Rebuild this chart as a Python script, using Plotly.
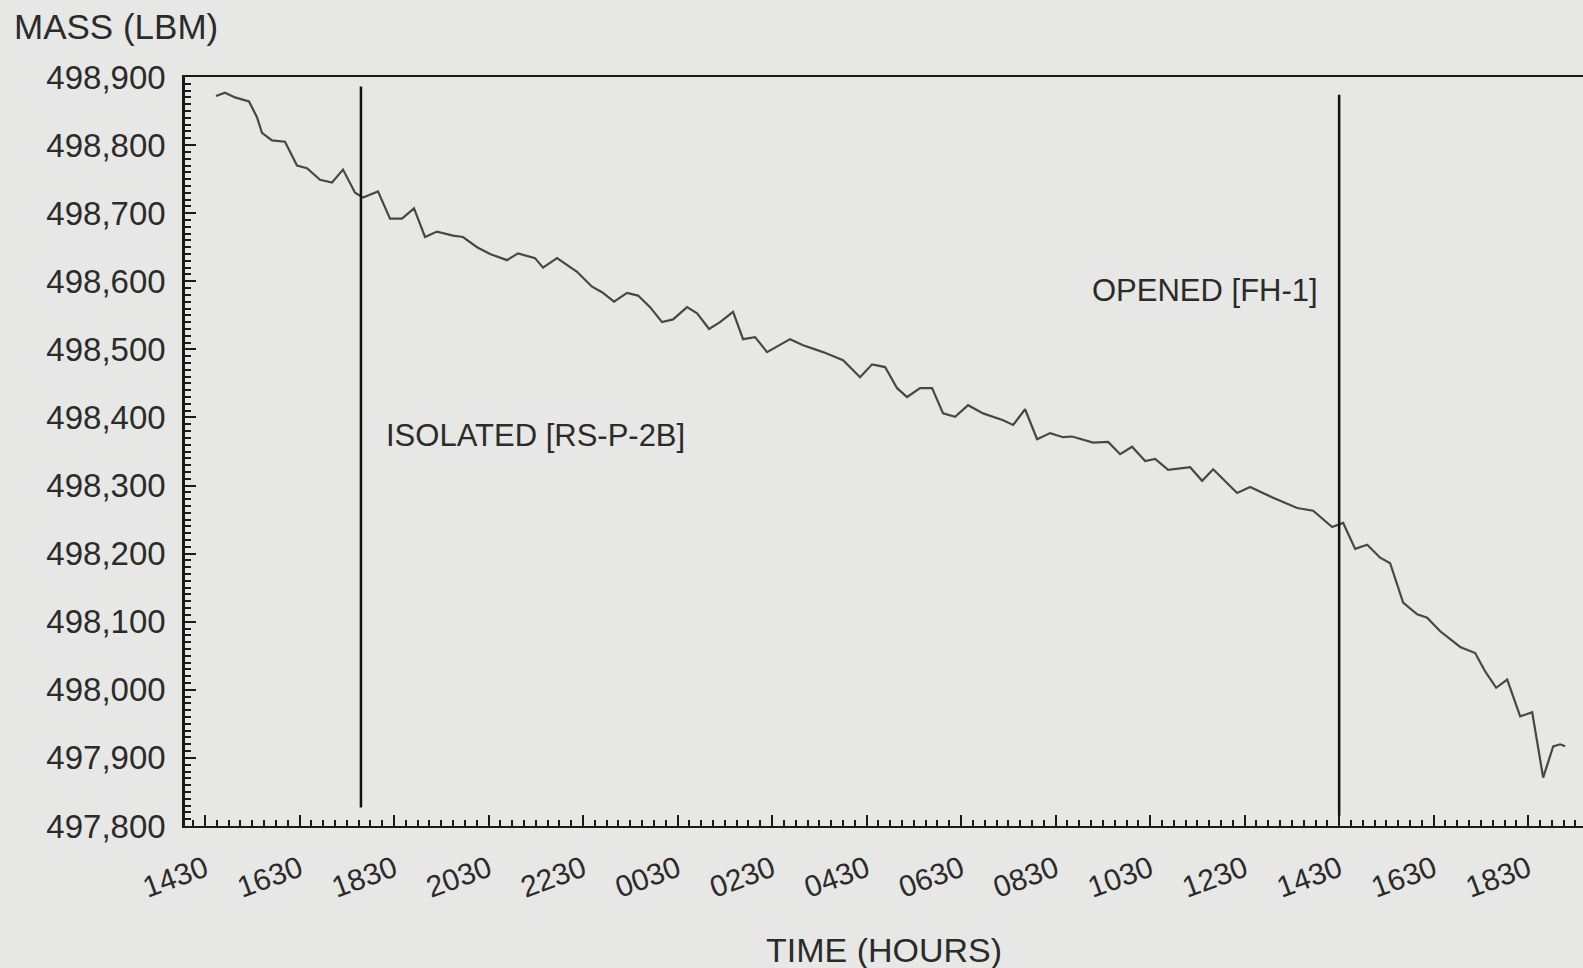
import plotly.graph_objects as go

# ---- data (time in hours after 14:30 on day 1) ----
hours = [0.233, 0.423, 0.635, 0.931, 1.100, 1.206, 1.418, 1.693, 1.947, 2.159,
         2.434, 2.688, 2.921, 3.175, 3.344, 3.661, 3.915, 4.169, 4.423, 4.656,
         4.910, 5.249, 5.460, 5.757, 6.032, 6.392, 6.624, 6.878, 6.984, 7.153,
         7.450, 7.873, 8.190, 8.402, 8.656, 8.931, 9.164, 9.418, 9.672, 9.905,
         10.201, 10.413, 10.667, 10.899, 11.175, 11.386, 11.640, 11.894, 12.381, 12.656,
         13.079, 13.503, 13.862, 14.116, 14.392, 14.646, 14.857, 15.132, 15.386, 15.619,
         15.873, 16.148, 16.466, 16.889, 17.101, 17.354, 17.608, 17.884, 18.159, 18.349,
         18.794, 19.111, 19.365, 19.619, 19.894, 20.106, 20.381, 20.847, 21.101, 21.333,
         21.841, 22.116, 22.603, 23.111, 23.450, 23.852, 24.085, 24.339, 24.593, 24.868,
         25.079, 25.354, 25.651, 25.862, 26.138, 26.561, 26.878, 27.090, 27.323, 27.556,
         27.831, 28.085, 28.317, 28.529, 28.677, 28.783]
mass = [498872, 498877, 498870, 498864, 498841, 498818, 498807, 498805, 498770, 498766,
        498749, 498745, 498764, 498730, 498723, 498732, 498692, 498692, 498707, 498665,
        498673, 498667, 498665, 498650, 498640, 498631, 498641, 498636, 498634, 498620,
        498634, 498614, 498592, 498584, 498570, 498583, 498579, 498562, 498540, 498544,
        498562, 498553, 498530, 498540, 498555, 498515, 498518, 498496, 498515, 498506,
        498496, 498484, 498459, 498478, 498474, 498443, 498430, 498443, 498443, 498406,
        498401, 498418, 498406, 498396, 498389, 498412, 498368, 498377, 498371, 498372,
        498363, 498364, 498346, 498357, 498336, 498339, 498323, 498327, 498307, 498324,
        498289, 498298, 498282, 498267, 498263, 498239, 498245, 498207, 498213, 498194,
        498186, 498128, 498111, 498106, 498086, 498063, 498054, 498027, 498003, 498015,
        497961, 497967, 497871, 497917, 497920, 497917]

tick_hours = [0, 2, 4, 6, 8, 10, 12, 14, 16, 18, 20, 22, 24, 26, 28]
tick_labels = ["1430", "1630", "1830", "2030", "2230", "0030", "0230", "0430",
               "0630", "0830", "1030", "1230", "1430", "1630", "1830"]
y_ticks = [497800, 497900, 498000, 498100, 498200, 498300,
           498400, 498500, 498600, 498700, 498800, 498900]
y_tick_labels = ["497,800", "497,900", "498,000", "498,100", "498,200", "498,300",
                 "498,400", "498,500", "498,600", "498,700", "498,800", "498,900"]

event_hours = [3.30, 24.0]
event_top = [498886, 498874]
event_bottom = [497827, 497815]
event_labels = ["ISOLATED [RS-P-2B]", "OPENED [FH-1]"]
label_hours = [3.79, 18.73]
label_mass = [498373, 498587]

X_RANGE = [-0.423, 29.16]
Y_RANGE = [497800, 498900]

BG = "#e7e7e5"
INK = "#2b2b2b"
AX = "#1a1a1a"
FONT = "Liberation Sans, Arial, sans-serif"

fig = go.Figure()
fig.add_trace(go.Scatter(x=hours, y=mass, mode="lines",
                         line=dict(color="#474747", width=2.2), showlegend=False,
                         hoverinfo="skip"))
# event lines drawn on the overlay axes (identical ranges) so those axes render
for h, t, b in zip(event_hours, event_top, event_bottom):
    fig.add_trace(go.Scatter(x=[h, h], y=[t, b], mode="lines", xaxis="x2", yaxis="y2",
                             line=dict(color="#111111", width=2.5),
                             showlegend=False, hoverinfo="skip"))

for txt, hx, my in zip(event_labels, label_hours, label_mass):
    fig.add_annotation(x=hx, y=my, xref="x", yref="y", text=txt, showarrow=False,
                       xanchor="left", yanchor="middle",
                       font=dict(family=FONT, size=31, color=INK))

fig.add_annotation(x=0.5, y=-0.165, xref="paper", yref="paper", text="TIME (HOURS)",
                   showarrow=False, xanchor="center", yanchor="middle",
                   font=dict(family=FONT, size=34, color=INK))
fig.add_annotation(x=-0.124, y=1.067, xref="paper", yref="paper", text="MASS (LBM)",
                   showarrow=False, xanchor="left", yanchor="middle",
                   font=dict(family=FONT, size=35, color=INK))

fig.update_layout(
    width=1583, height=968, autosize=False,
    margin=dict(l=185, r=0, t=77, b=142),
    paper_bgcolor=BG, plot_bgcolor=BG,
    showlegend=False,
    xaxis=dict(
        range=X_RANGE, showgrid=False, zeroline=False,
        showline=True, linecolor=AX, linewidth=2, mirror=True,
        ticks="inside", ticklen=11, tickwidth=2, tickcolor=AX,
        tickmode="array", tickvals=tick_hours, ticktext=tick_labels,
        tickangle=-20, tickfont=dict(family=FONT, size=30, color=INK),
        ticklabelstandoff=12,
    ),
    yaxis=dict(
        range=Y_RANGE, showgrid=False, zeroline=False,
        showline=True, linecolor=AX, linewidth=2.5,
        ticks="inside", ticklen=11, tickwidth=2, tickcolor=AX,
        tickmode="array", tickvals=y_ticks, ticktext=y_tick_labels,
        tickfont=dict(family=FONT, size=33, color=INK),
        ticklabelstandoff=10,
    ),
    # overlay axes carrying the fine (minor) tick marks
    xaxis2=dict(
        range=X_RANGE, overlaying="x", anchor="y2", side="bottom",
        showgrid=False, zeroline=False, showline=False, showticklabels=False,
        ticks="inside", ticklen=6, tickwidth=1.5, tickcolor=AX,
        tickmode="linear", tick0=0, dtick=0.25,
    ),
    yaxis2=dict(
        range=Y_RANGE, overlaying="y", anchor="x2", side="left",
        showgrid=False, zeroline=False, showline=False, showticklabels=False,
        ticks="inside", ticklen=6, tickwidth=1.5, tickcolor=AX,
        tickmode="linear", tick0=497800, dtick=10,
    ),
)

fig.write_html(
    "out.html",
    config={"displayModeBar": False},
    post_script=("document.body.style.margin='0';"
                 "document.body.style.padding='0';"
                 "document.body.style.overflow='hidden';"
                 "document.body.style.background='" + BG + "';"),
)
